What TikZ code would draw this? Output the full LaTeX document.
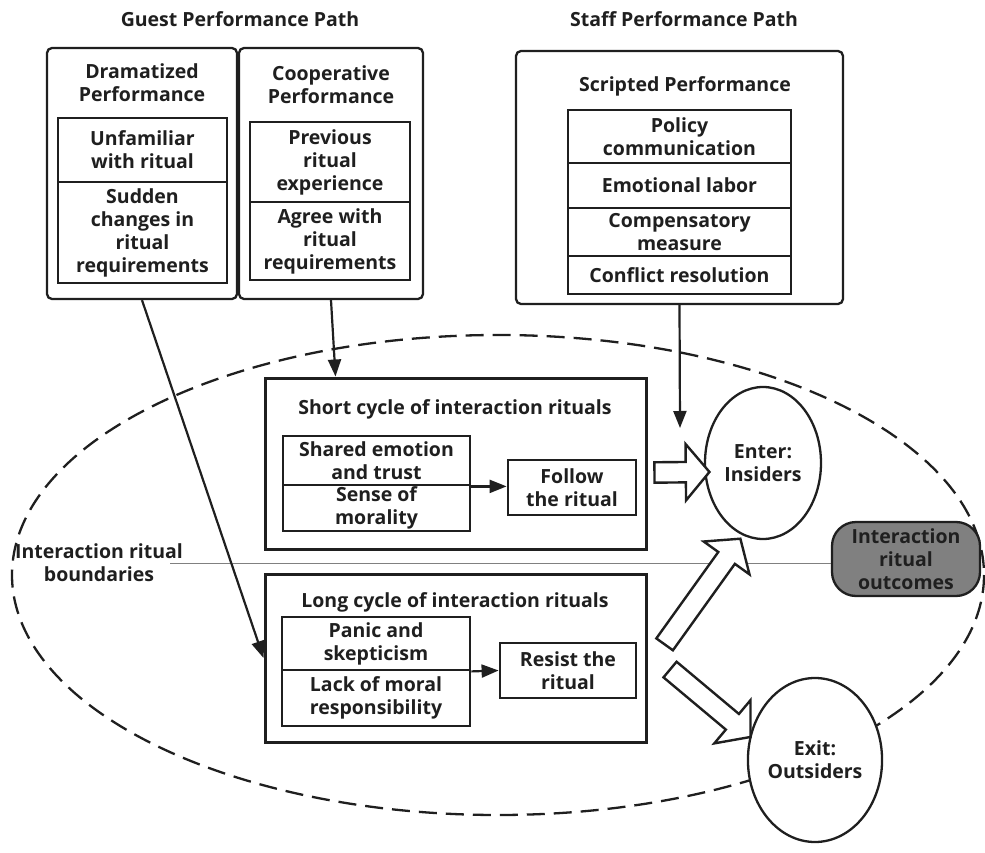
\documentclass[tikz,border=0pt]{standalone}
\usepackage{fontspec}
\setmainfont{Open Sans}
\usepackage{tikz}
\usetikzlibrary{arrows.meta,shapes.geometric,shapes.arrows}
\tikzstyle{pathbox}=[rectangle,rounded corners=5pt,draw,line width=2.3pt,fill=white,inner sep=0pt]
\tikzstyle{itembox}=[rectangle,draw,line width=2.8pt,fill=white,inner sep=0pt,align=center]
\tikzstyle{cyclebox}=[rectangle,draw,line width=3pt,fill=white,inner sep=0pt]
\tikzstyle{actor}=[ellipse,draw,line width=2.3pt,fill=white,inner sep=0pt,align=center]
\tikzstyle{outcome}=[rectangle,rounded corners=24pt,draw,line width=2.3pt,fill=gray,inner sep=0pt,align=center]
\tikzstyle{lbl}=[align=center]
\tikzstyle{arr}=[-{Triangle[length=17pt,width=13pt]},draw,line width=2.2pt]
\tikzstyle{hollow}=[single arrow,draw,line width=2.4pt,fill=white,inner xsep=0pt,inner ysep=9pt,single arrow head extend=18pt,single arrow tip angle=100,sloped]

\begin{document}
\begin{tikzpicture}[x=1pt,y=-1pt,color=black!88,font=\fontsize{19.5}{23}\selectfont\bfseries]
  \useasboundingbox (0,0) rectangle (985,853);
  % boundary of the rituals
  \draw[dash pattern=on 18pt off 9pt,line width=2.3pt] (498,575) ellipse [x radius=486, y radius=240];

  %Nodes
  \node (guest) at (240,19) {Guest Performance Path};
  \node (staff) at (684,19) {Staff Performance Path};

  \node[pathbox,minimum width=190pt,minimum height=251pt] (dram)   at (142,173.5) {};
  \node[pathbox,minimum width=184pt,minimum height=251pt] (coop)   at (331,173.5) {};
  \node[pathbox,minimum width=327pt,minimum height=253pt] (script) at (679.5,177.5) {};
  \node[lbl] (dramlbl)   at (142,83) {Dramatized\\Performance};
  \node[lbl] (cooplbl)   at (331,85) {Cooperative\\Performance};
  \node[lbl] (scriptlbl) at (685,86) {Scripted Performance};

  \node[itembox,minimum width=169pt,minimum height=64pt]  (unfam)  at (142.5,150) {Unfamiliar\\with ritual};
  \node[itembox,minimum width=169pt,minimum height=101pt] (sudden) at (142.5,232.5) {Sudden\\changes in\\ritual\\requirements};
  \node[itembox,minimum width=160pt,minimum height=80pt]  (prev)   at (330,162) {Previous\\ritual\\experience};
  \node[itembox,minimum width=160pt,minimum height=78pt]  (agree)  at (330,241) {Agree with\\ritual\\requirements};
  \node[itembox,minimum width=223pt,minimum height=53pt]  (policy) at (679.5,136.5) {Policy\\communication};
  \node[itembox,minimum width=223pt,minimum height=45pt]  (emot)   at (679.5,185.5) {Emotional labor};
  \node[itembox,minimum width=223pt,minimum height=48pt]  (comp)   at (679.5,232) {Compensatory\\measure};
  \node[itembox,minimum width=223pt,minimum height=38pt]  (confl)  at (679.5,275) {Conflict resolution};

  \node[cyclebox,minimum width=381pt,minimum height=171pt] (short) at (455.5,463.5) {};
  \node[lbl] (shortlbl) at (455,409) {Short cycle of interaction rituals};
  \node[itembox,minimum width=187pt,minimum height=49pt] (shared) at (376.5,460.5) {Shared emotion\\and trust};
  \node[itembox,minimum width=187pt,minimum height=46pt] (moral)  at (376.5,508) {Sense of\\morality};
  \node[itembox,minimum width=128pt,minimum height=55pt] (follow) at (572,487.5) {Follow\\the ritual};

  \node[cyclebox,minimum width=381pt,minimum height=168pt] (long) at (455.5,658) {};
  \node[lbl] (longlbl) at (455,602) {Long cycle of interaction rituals};
  \node[itembox,minimum width=188pt,minimum height=53pt] (panic)  at (376,643.5) {Panic and\\skepticism};
  \node[itembox,minimum width=188pt,minimum height=56pt] (lack)   at (376,698) {Lack of moral\\responsibility};
  \node[itembox,minimum width=136pt,minimum height=55pt] (resist) at (568,670.5) {Resist the\\ritual};

  \node[actor,minimum width=116pt,minimum height=152pt] (enter) at (763,463) {Enter:\\Insiders};
  \node[actor,minimum width=126pt,minimum height=164pt] (exit)  at (815,760) {Exit:\\Outsiders};
  \node[outcome,minimum width=148pt,minimum height=74pt] (result) at (906,559) {Interaction\\ritual\\outcomes};
  \node[lbl] (boundlbl) at (99,563) {Interaction ritual\\boundaries};

  %Lines
  \coordinate (bline) at (170,563);
  \draw[gray,line width=1pt] (bline) -- (result.west |- bline);
  \draw[arr] (dram.south) -- (long.west);
  \draw[arr] (coop.south) -- ([xshift=72pt]short.north west);
  \coordinate (scriptend) at (680,428);
  \draw[arr] (script.south) -- (scriptend);
  \draw[arr] (shared.south east) -- (shared.south east -| follow.west);
  \draw[arr] (panic.south east) -- (resist.west);

  % hollow arrows to the outcomes
  \path ([shift={(4pt,-9pt)}]short.east) -- ([yshift=-9pt]enter.west) node[hollow,midway,minimum height=55pt] (inarrow) {};
  \coordinate (upstart) at (662,648);
  \coordinate (uptip) at (738,542);
  \path (upstart) -- (uptip) node[hollow,midway,minimum height=130pt] (uparrow) {};
  \coordinate (downstart) at (667,667);
  \coordinate (downtip) at (747,734);
  \path (downstart) -- (downtip) node[hollow,midway,minimum height=105pt] (downarrow) {};
\end{tikzpicture}
\end{document}
